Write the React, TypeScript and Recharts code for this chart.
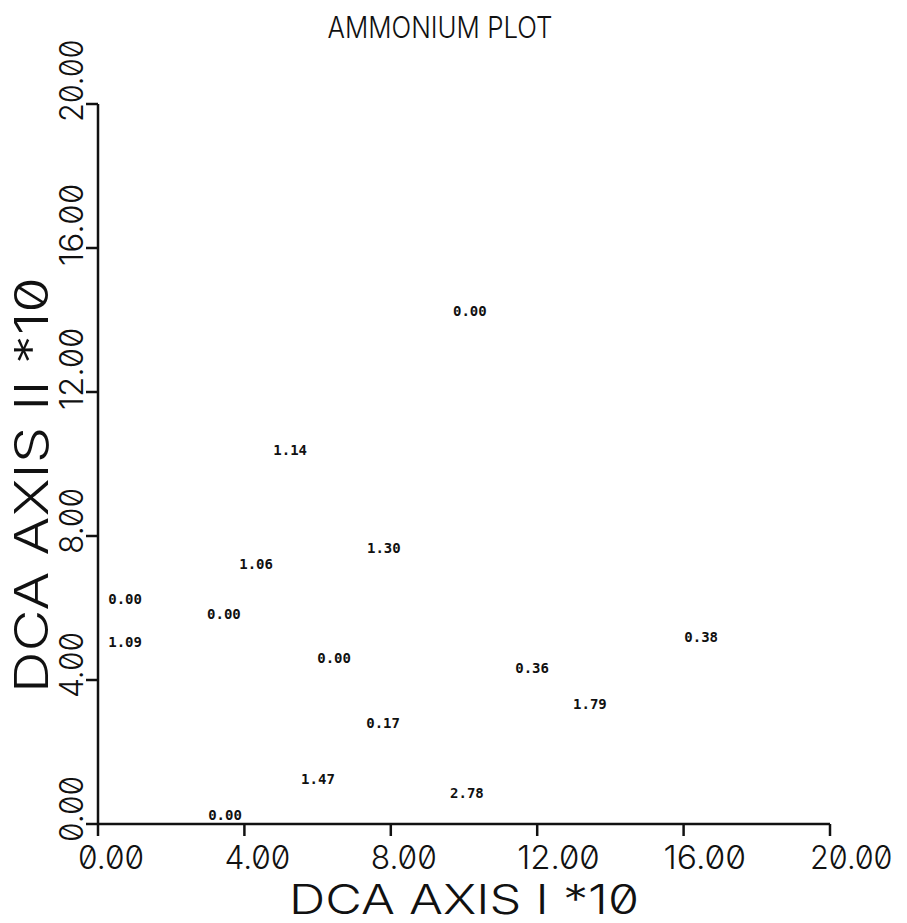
import { ScatterChart, Scatter, XAxis, YAxis, Label } from 'recharts'

// DCA ordination scores (axis I, axis II, both *10) and the ammonium value at each site
const axisIScores = [10.16, 5.25, 7.81, 4.32, 0.74, 3.44, 0.74, 6.45, 16.48, 11.86, 13.44, 7.79, 6.01, 10.08, 3.47]
const axisIIScores = [14.25, 10.39, 7.67, 7.22, 6.25, 5.83, 5.06, 4.61, 5.19, 4.33, 3.33, 2.81, 1.25, 0.86, 0.25]
const ammonium = ['0.00', '1.14', '1.30', '1.06', '0.00', '0.00', '1.09', '0.00', '0.38', '0.36', '1.79', '0.17', '1.47', '2.78', '0.00']

const axisTicks = [0, 4, 8, 12, 16, 20]

const sites = axisIScores.map((x, i) => ({ x, y: axisIIScores[i], nh4: ammonium[i] }))

const PLOT_FONT = 'Inter, "DejaVu Sans", sans-serif'
const INK = '#111'
const zeroStyle = { fontFeatureSettings: '"zero"' }

function XTick(props: any) {
  const { x, y, payload } = props
  const text = Number(payload.value).toFixed(2)
  return (
    <text
      x={x - 20}
      y={y + 31}
      textAnchor="start"
      fontFamily={PLOT_FONT}
      fontWeight={300}
      fontSize={32}
      fill={INK}
      textLength={text.length * 16.5}
      lengthAdjust="spacingAndGlyphs"
      style={zeroStyle}
    >
      {text}
    </text>
  )
}

function YTick(props: any) {
  const { x, y, payload } = props
  const text = Number(payload.value).toFixed(2)
  const bx = x - 1
  const by = y + 18
  return (
    <text
      x={bx}
      y={by}
      transform={`rotate(-90, ${bx}, ${by})`}
      textAnchor="start"
      fontFamily={PLOT_FONT}
      fontWeight={300}
      fontSize={33}
      fill={INK}
      textLength={text.length * 16.5}
      lengthAdjust="spacingAndGlyphs"
      style={zeroStyle}
    >
      {text}
    </text>
  )
}

function SiteLabel(props: any) {
  const { cx, cy, payload } = props
  return (
    <text
      x={cx}
      y={cy}
      textAnchor="middle"
      dominantBaseline="central"
      fontFamily='"DejaVu Sans Mono", monospace'
      fontWeight={700}
      fontSize={14}
      fill={INK}
    >
      {payload.nh4}
    </text>
  )
}

export default function App() {
  return (
    <div style={{ position: 'absolute', left: 0, top: 0, width: 907, height: 923, background: '#fff' }}>
      <ScatterChart width={907} height={923} margin={{ top: 104, right: 77, bottom: 98, left: 97 }}>
        <XAxis
          type="number"
          dataKey="x"
          domain={[0, 20]}
          ticks={axisTicks}
          height={1}
          tickSize={12}
          axisLine={{ stroke: INK, strokeWidth: 2.5 }}
          tickLine={{ stroke: INK, strokeWidth: 2.5 }}
          tick={<XTick />}
          interval={0}
        >
          <Label
            content={(p: any) => {
              const vb = p.viewBox
              return (
                <text
                  x={vb.x + vb.width / 2}
                  y={914}
                  textAnchor="middle"
                  fontFamily={PLOT_FONT}
                  fontWeight={300}
                  fontSize={41}
                  fill={INK}
                  textLength={350}
                  lengthAdjust="spacingAndGlyphs"
                  style={zeroStyle}
                >
                  DCA AXIS I *10
                </text>
              )
            }}
          />
        </XAxis>
        <YAxis
          type="number"
          dataKey="y"
          domain={[0, 20]}
          ticks={axisTicks}
          width={1}
          tickSize={12}
          axisLine={{ stroke: INK, strokeWidth: 2.5 }}
          tickLine={{ stroke: INK, strokeWidth: 2.5 }}
          tick={<YTick />}
          interval={0}
        >
          <Label
            content={() => {
              const cx = 48
              const cy = 485
              return (
                <text
                  x={cx}
                  y={cy}
                  transform={`rotate(-90, ${cx}, ${cy})`}
                  textAnchor="middle"
                  fontFamily={PLOT_FONT}
                  fontWeight={300}
                  fontSize={46}
                  fill={INK}
                  textLength={416}
                  lengthAdjust="spacingAndGlyphs"
                  style={zeroStyle}
                >
                  DCA AXIS II *10
                </text>
              )
            }}
          />
        </YAxis>
        <Scatter data={sites} shape={<SiteLabel />} isAnimationActive={false} />
      </ScatterChart>
      <svg width={907} height={60} style={{ position: 'absolute', left: 0, top: 0, pointerEvents: 'none' }}>
        <text
          x={440}
          y={38}
          textAnchor="middle"
          fontFamily={PLOT_FONT}
          fontWeight={300}
          fontSize={30}
          fill={INK}
          textLength={225}
          lengthAdjust="spacingAndGlyphs"
        >
          AMMONIUM PLOT
        </text>
      </svg>
    </div>
  )
}
